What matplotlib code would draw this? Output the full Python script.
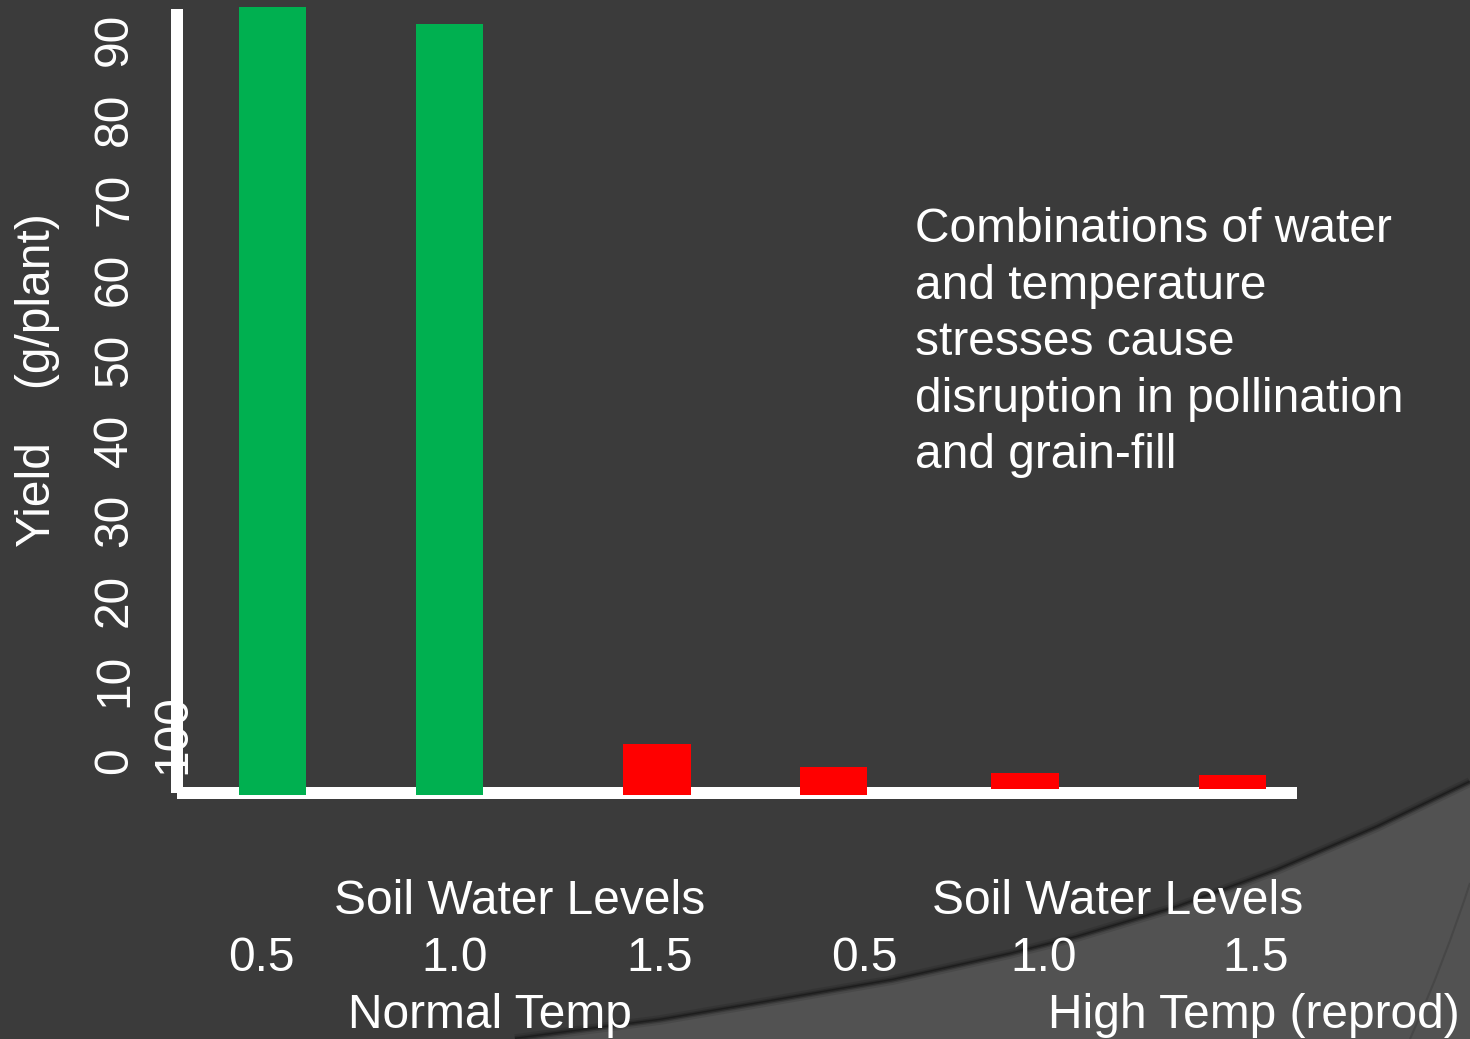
import matplotlib.pyplot as plt
from matplotlib.patches import PathPatch
from matplotlib.path import Path

WIDTH, HEIGHT = 1470, 1039
BACKGROUND = "#3b3b3b"
SWOOSH = "#525252"
GREEN = "#00b050"
RED = "#ff0000"
FONT = "Liberation Sans"
SIZE = 34.5

# yield per plant (g) for each soil water level
normal_temp_yield = [100.3, 98.1, 6.3]
high_temp_yield = [3.3, 2.5, 2.3]
water_levels = ["0.5", "1.0", "1.5"]
temp_groups = ["Normal Temp", "High Temp (reprod)"]
yield_ticks = [0, 10, 20, 30, 40, 50, 60, 70, 80, 90]
note_lines = [
    "Combinations of water",
    "and temperature",
    "stresses cause",
    "disruption in pollination",
    "and grain-fill",
]

# layout
bar_x = [0.856, 2.43, 4.286, 5.862, 7.571, 9.424]
bar_base = [-0.25, -0.25, -0.25, -0.25, 0.5, 0.5]
level_label_x = [[261, 455, 660], [864, 1044, 1256]]
group_header_x = [520, 1118]
group_label_x = [490, 1254]
# outline of the lighter band in the lower right, in pixels
band_edge = [(515, 1039), (560, 1033), (660, 1020), (760, 1003), (893, 980),
             (1010, 954), (1077, 937), (1177, 907), (1277, 870), (1377, 827),
             (1470, 782)]


def fx(x):
    return x / WIDTH


def fy(y):
    return 1 - y / HEIGHT


def add_text(fig, x, y, s, **kwargs):
    opts = dict(color="white", fontsize=SIZE, family=FONT)
    opts.update(kwargs)
    return fig.text(fx(x), fy(y), s, **opts)


fig = plt.figure(figsize=(WIDTH / 100, HEIGHT / 100), dpi=100)
fig.patch.set_facecolor(BACKGROUND)

# lighter band in the lower right corner, with a soft shadow on its edge
edge = [(fx(x), fy(y)) for x, y in band_edge]
band = edge + [(fx(1470), fy(1039)), edge[0]]
fig.add_artist(PathPatch(Path(band, closed=True), facecolor=SWOOSH,
                         edgecolor="none", transform=fig.transFigure,
                         zorder=-3))
for lw, alpha in ((7, 0.10), (4, 0.18), (2, 0.30)):
    fig.add_artist(PathPatch(Path(edge), facecolor="none", edgecolor="black",
                             linewidth=lw, alpha=alpha,
                             transform=fig.transFigure, zorder=-2))
fold = [(fx(1470), fy(883)), (fx(1445), fy(960)), (fx(1410), fy(1039))]
fig.add_artist(PathPatch(Path(fold, [Path.MOVETO, Path.CURVE3, Path.CURVE3]),
                         facecolor="none", edgecolor="#474747", linewidth=1.5,
                         transform=fig.transFigure, zorder=-2))

ax = fig.add_axes([fx(177), fy(793), (1297 - 177) / WIDTH, (793 - 9) / HEIGHT])
ax.set_facecolor("none")
ax.set_xlim(0, 10)
ax.set_ylim(0, 100)

values = normal_temp_yield + high_temp_yield
colors = [GREEN, GREEN, RED, RED, RED, RED]
heights = [v - b for v, b in zip(values, bar_base)]
ax.bar(bar_x, heights, bottom=bar_base, width=0.6, color=colors,
       zorder=3, clip_on=False)

for side in ("top", "right"):
    ax.spines[side].set_visible(False)
for side in ("left", "bottom"):
    ax.spines[side].set_color("white")
    ax.spines[side].set_linewidth(8.64)
    ax.spines[side].set_capstyle("butt")
ax.set_xticks([])
ax.set_yticks([])

# rotated scale numbers beside the axis
scale_ax = fig.add_axes([0, fy(761), 1, (761 - 39) / HEIGHT])
scale_ax.set_ylim(0, 90)
scale_ax.axis("off")
for v in yield_ticks:
    scale_ax.text(fx(127), v, str(v), transform=scale_ax.get_yaxis_transform(),
                  rotation=90, rotation_mode="anchor", ha="center",
                  va="baseline", color="white", fontsize=SIZE, family=FONT)

add_text(fig, 185, 734, "100", rotation=90, rotation_mode="anchor",
         ha="center", va="baseline", zorder=-1)
add_text(fig, 50, 380, "Yield    (g/plant)", rotation=90,
         rotation_mode="anchor", ha="center", va="baseline")

for header_x, label_xs, group_x, group in zip(
        group_header_x, level_label_x, group_label_x, temp_groups):
    add_text(fig, header_x, 914, "Soil Water Levels", ha="center",
             va="baseline")
    for lx, level in zip(label_xs, water_levels):
        add_text(fig, lx, 971, level, ha="center", va="baseline")
    add_text(fig, group_x, 1028, group, ha="center", va="baseline")

for i, line in enumerate(note_lines):
    add_text(fig, 915, 242 + 56.6 * i, line, ha="left", va="baseline")

fig.savefig("out.png", dpi=100, facecolor=fig.get_facecolor())
